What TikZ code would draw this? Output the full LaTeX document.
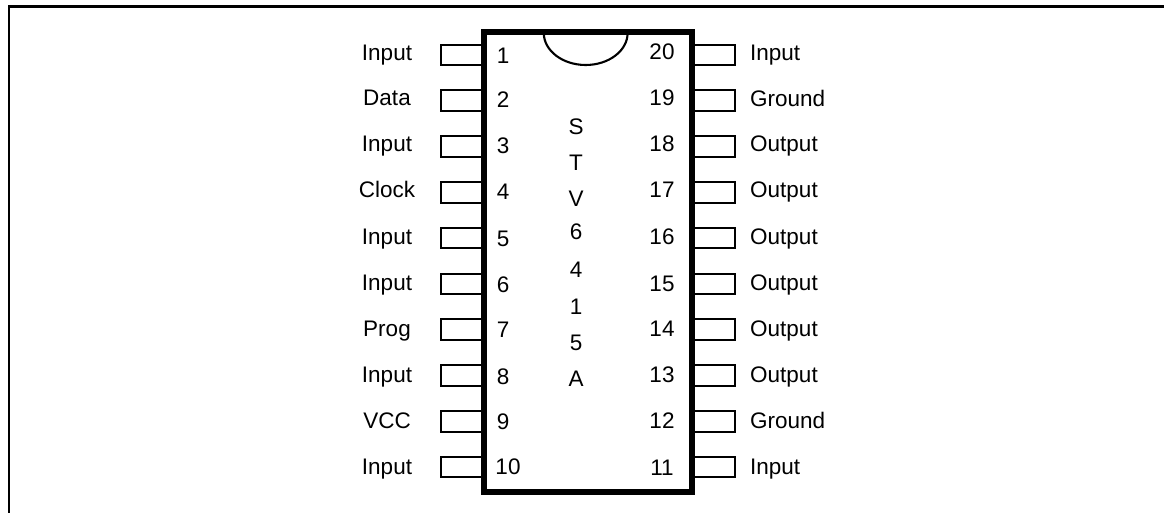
\documentclass[tikz,border=0pt]{standalone}
\usepackage{fontspec}
\setmainfont{Liberation Sans}
\begin{document}
\begin{tikzpicture}[x=1pt,y=-1pt,
  frameline/.style={line width=2.6pt,line cap=butt},
  chipbody/.style={line width=5.8pt,draw=black,line join=miter},
  pinbox/.style={line width=2pt,draw=black},
  notchline/.style={line width=2.1pt,draw=black},
  lbl/.style={font=\fontsize{22.5}{26}\selectfont,inner sep=0pt,anchor=base},
  rlbl/.style={lbl,anchor=base west},
  num/.style={font=\fontsize{22.5}{26}\selectfont,inner sep=0pt,anchor=base}]
\useasboundingbox (0,0) rectangle (1164,513);
\fill[white] (0,0) rectangle (1164,513);
\draw[frameline] (9,513) -- (9,6.8) -- (1164,6.8);
% pins
\foreach \i in {0,...,9}{
  \pgfmathsetmacro{\yy}{44.6+45.8*\i}
  \draw[pinbox] (484,\yy) -- (440.5,\yy) -- (440.5,\yy+20.6) -- (484,\yy+20.6);
  \draw[pinbox] (692,\yy) -- (735,\yy) -- (735,\yy+20.6) -- (692,\yy+20.6);
}
% chip
\draw[chipbody] (484.2,32) rectangle (692,491.7);
\draw[notchline] (543.8,33) arc[start angle=180,end angle=0,x radius=41.9,y radius=32];
% left labels
\foreach \t/\y [count=\c] in {Input/61,Data/106,Input/152,Clock/198,Input/244,Input/290,Prog/336,Input/382,VCC/428,Input/474}
  \node[lbl] (ll\c) at (387,\y) {\t};
% right labels
\foreach \t/\y [count=\c] in {Input/61,Ground/107,Output/152,Output/198,Output/244,Output/290,Output/336,Output/382,Ground/428,Input/474}
  \node[rlbl] (rl\c) at (750,\y) {\t};
% left numbers
\foreach \t/\x/\y in {1/503/64,2/503/108,3/503/154,4/503/200,5/503/246,6/503/292,7/503/337,8/503/384,9/503/429,10/508/474}
  \node[num] (n\t) at (\x,\y) {\t};
% right numbers
\foreach \t/\x/\y in {20/662/60,19/662/106,18/662/152,17/662/198,16/662/244,15/662/291,14/662/336,13/662/382,12/662/428,11/662/475}
  \node[num] (n\t) at (\x,\y) {\t};
% vertical type
\foreach \t/\y [count=\c] in {S/135,T/171,V/207,6/240,4/277,1/314,5/350,A/386}
  \node[num] (v\c) at (576,\y) {\t};
\end{tikzpicture}
\end{document}
